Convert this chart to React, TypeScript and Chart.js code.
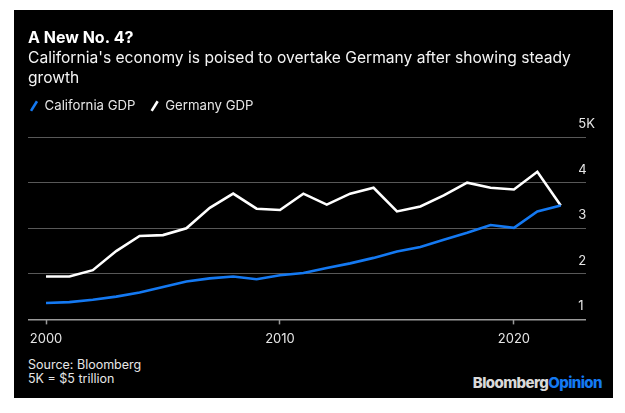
import React, { useEffect, useRef } from "react";
import { Chart, registerables } from "chart.js";

Chart.register(...registerables);

const years = [2000, 2001, 2002, 2003, 2004, 2005, 2006, 2007, 2008, 2009, 2010, 2011, 2012, 2013, 2014, 2015, 2016, 2017, 2018, 2019, 2020, 2021, 2022];
const californiaGDP = [1.36, 1.38, 1.43, 1.5, 1.59, 1.71, 1.83, 1.9, 1.94, 1.88, 1.97, 2.02, 2.13, 2.23, 2.35, 2.49, 2.59, 2.75, 2.9, 3.07, 3.01, 3.37, 3.5];
const germanyGDP = [1.94, 1.94, 2.08, 2.5, 2.83, 2.85, 3.0, 3.45, 3.76, 3.43, 3.4, 3.76, 3.52, 3.76, 3.89, 3.37, 3.48, 3.72, 4.0, 3.89, 3.85, 4.24, 3.5];
const xTickYears = [2000, 2010, 2020];
const yTickValues = [1, 2, 3, 4, 5];
const yTickLabels = ["1", "2", "3", "4", "5K"];

const seriesNames = ["California GDP", "Germany GDP"];
const titleText = "A New No. 4?";
const subtitleLines = ["California's economy is poised to overtake Germany after showing steady", "growth"];

const BLUE = "#1479f2";
const FONT = "Inter";

export default function App() {
  const ref = useRef<HTMLCanvasElement | null>(null);

  useEffect(() => {
    if (!ref.current) return;
    const chart = new Chart(ref.current, {
      type: "line",
      data: {
        datasets: [
          {
            label: seriesNames[0],
            data: years.map((y, i) => ({ x: y, y: californiaGDP[i] })),
            borderColor: BLUE,
            backgroundColor: BLUE,
            borderWidth: 2.6,
            pointRadius: 0,
            tension: 0,
          },
          {
            label: seriesNames[1],
            data: years.map((y, i) => ({ x: y, y: germanyGDP[i] })),
            borderColor: "#ffffff",
            backgroundColor: "#ffffff",
            borderWidth: 2.6,
            pointRadius: 0,
            tension: 0,
          },
        ],
      },
      options: {
        responsive: false,
        animation: false,
        layout: { padding: { left: 14, right: 0, top: 0, bottom: 1 } },
        plugins: {
          tooltip: { enabled: false },
          title: {
            display: true,
            text: titleText,
            align: "start",
            color: "#ffffff",
            font: { family: FONT, size: 16, weight: "bold", lineHeight: 1.2 },
            padding: { top: 19, bottom: 0 },
          },
          subtitle: {
            display: true,
            text: subtitleLines,
            align: "start",
            color: "#f4f4f4",
            font: { family: FONT, size: 15.6, lineHeight: 1.28 },
            padding: { top: 0, bottom: 9.3 },
          },
          legend: {
            display: true,
            position: "top",
            align: "start",
            labels: {
              usePointStyle: true,
              boxWidth: 8,
              boxHeight: 8,
              padding: 2,
              color: "#e6e6e6",
              font: { family: FONT, size: 13.2 },
              generateLabels: (c: any) => {
                const items = Chart.defaults.plugins.legend.labels.generateLabels(c);
                return items.map((it: any, i: number) => {
                  const col = c.data.datasets[i].borderColor;
                  return {
                    ...it,
                    text: it.text + "\u2003",
                    pointStyle: "line",
                    rotation: -58,
                    lineWidth: 2.6,
                    strokeStyle: col,
                    fillStyle: col,
                    fontColor: "#e6e6e6",
                  };
                });
              },
            },
          },
        },
        scales: {
          x: {
            type: "linear",
            position: "bottom",
            min: 1999.23,
            max: 2023.08,
            afterBuildTicks: (s: any) => {
              s.ticks = xTickYears.map((v) => ({ value: v }));
            },
            ticks: {
              color: "#e6e6e6",
              font: { family: FONT, size: 13 },
              padding: 7,
              maxRotation: 0,
              autoSkip: false,
              callback: (v: any) => String(v),
            },
            grid: {
              color: "rgba(0,0,0,0)",
              drawOnChartArea: false,
              drawTicks: true,
              tickLength: 5,
              tickColor: "#9a9a9a",
              tickWidth: 1.5,
            },
            border: { display: false },
          },
          topSpacer: {
            type: "linear",
            position: "top",
            display: true,
            ticks: { display: false },
            grid: { display: false, drawTicks: false },
            border: { display: false },
            afterFit: (s: any) => {
              s.height = 14.5;
            },
          },
          y: {
            type: "linear",
            position: "right",
            min: 1,
            max: 5,
            afterBuildTicks: (s: any) => {
              s.ticks = yTickValues.map((v) => ({ value: v }));
            },
            ticks: {
              color: "#e6e6e6",
              font: { family: FONT, size: 13, lineHeight: 2 },
              mirror: true,
              crossAlign: "far",
              padding: 9,
              autoSkip: false,
              callback: (v: any) => {
                const idx = yTickValues.indexOf(Number(v));
                return [idx >= 0 ? yTickLabels[idx] : String(v), ""];
              },
            },
            grid: {
              drawTicks: false,
              color: (ctx: any) => (ctx.tick && ctx.tick.value === 1 ? "#9a9a9a" : "#585858"),
              lineWidth: (ctx: any) => (ctx.tick && ctx.tick.value === 1 ? 1.5 : 1),
            },
            border: { display: false },
            afterFit: (s: any) => {
              s.width = 27;
            },
          },
        },
      } as any,
    });
    return () => chart.destroy();
  }, []);

  return (
    <div
      style={{
        position: "absolute",
        left: 14,
        top: 10,
        width: 599,
        height: 388,
        background: "#000000",
        overflow: "hidden",
      }}
    >
      <canvas ref={ref} width={599} height={345} style={{ position: "absolute", left: 0, top: 0 }} />
      <div
        style={{
          position: "absolute",
          left: 14,
          top: 347.5,
          fontFamily: FONT,
          fontSize: 12.5,
          lineHeight: "14px",
          color: "#e6e6e6",
        }}
      >
        Source: Bloomberg
        <br />
        5K = $5 trillion
      </div>
      <div
        style={{
          position: "absolute",
          right: 11,
          top: 364,
          fontFamily: FONT,
          fontSize: 15,
          fontWeight: 800,
          lineHeight: "18px",
          letterSpacing: "-0.6px",
          whiteSpace: "nowrap",
        }}
      >
        <span style={{ color: "#d9d9d9" }}>Bloomberg</span>
        <span style={{ color: BLUE }}>Opinion</span>
      </div>
    </div>
  );
}
